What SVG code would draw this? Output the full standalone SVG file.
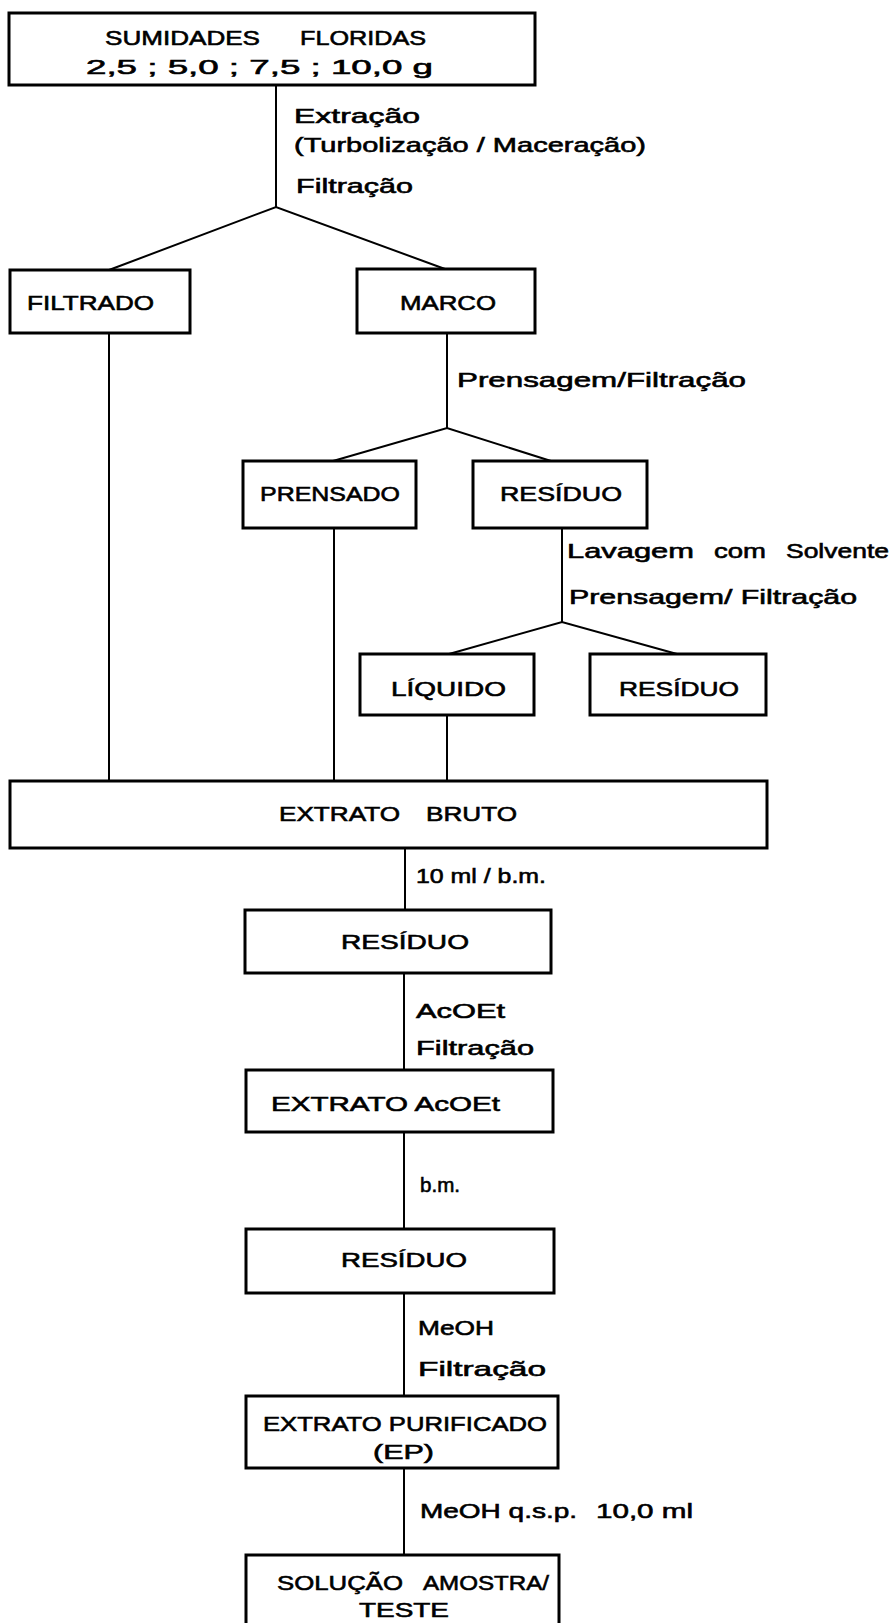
<svg xmlns="http://www.w3.org/2000/svg" width="893" height="1623" viewBox="0 0 893 1623">
<style>
.box{fill:#fff;stroke:#000;stroke-width:3}
.c{fill:none;stroke:#000;stroke-width:2}
text{font-family:"Liberation Sans",Arial,sans-serif;font-size:21px;fill:#000;stroke:#000;stroke-width:0.6}
</style>
<rect width="893" height="1623" fill="#fff"/>
<g id="connectors">
<polyline class="c" points="276,85 276,207"/>
<polyline class="c" points="109,270 276,207 445,269"/>
<line class="c" x1="109" y1="333" x2="109" y2="781"/>
<polyline class="c" points="447,333 447,428"/>
<polyline class="c" points="333,461 447,428 551,461"/>
<line class="c" x1="334" y1="528" x2="334" y2="781"/>
<polyline class="c" points="562,528 562,622"/>
<polyline class="c" points="449,654 562,622 677,654"/>
<line class="c" x1="447" y1="715" x2="447" y2="781"/>
<line class="c" x1="405" y1="848" x2="405" y2="910"/>
<line class="c" x1="404" y1="973" x2="404" y2="1070"/>
<line class="c" x1="404" y1="1132" x2="404" y2="1229"/>
<line class="c" x1="404" y1="1293" x2="404" y2="1396"/>
<line class="c" x1="404" y1="1468" x2="404" y2="1555"/>
<text x="294" y="123" textLength="126" lengthAdjust="spacingAndGlyphs">Extração</text>
<text x="294" y="152" textLength="352" lengthAdjust="spacingAndGlyphs">(Turbolização / Maceração)</text>
<text x="296" y="193" textLength="117" lengthAdjust="spacingAndGlyphs">Filtração</text>
<text x="457" y="387" textLength="289" lengthAdjust="spacingAndGlyphs">Prensagem/Filtração</text>
<text y="558"><tspan x="567" textLength="127" lengthAdjust="spacingAndGlyphs">Lavagem</tspan><tspan x="714" textLength="52" lengthAdjust="spacingAndGlyphs">com</tspan><tspan x="786" textLength="103" lengthAdjust="spacingAndGlyphs">Solvente</tspan></text>
<text x="569" y="604" textLength="288" lengthAdjust="spacingAndGlyphs">Prensagem/ Filtração</text>
<text x="416" y="883" textLength="130" lengthAdjust="spacingAndGlyphs">10 ml / b.m.</text>
<text x="416" y="1018" textLength="89" lengthAdjust="spacingAndGlyphs">AcOEt</text>
<text x="416" y="1055" textLength="118" lengthAdjust="spacingAndGlyphs">Filtração</text>
<text x="420" y="1192" textLength="40" lengthAdjust="spacingAndGlyphs">b.m.</text>
<text x="418" y="1335" textLength="76" lengthAdjust="spacingAndGlyphs">MeOH</text>
<text x="418" y="1376" textLength="128" lengthAdjust="spacingAndGlyphs">Filtração</text>
<text y="1518"><tspan x="420" textLength="157" lengthAdjust="spacingAndGlyphs">MeOH q.s.p.</tspan><tspan x="596" textLength="97" lengthAdjust="spacingAndGlyphs">10,0 ml</tspan></text>
</g>
<g id="sumidades">
<rect class="box" x="9" y="13" width="526" height="72"/>
<text y="45"><tspan x="105" textLength="155" lengthAdjust="spacingAndGlyphs">SUMIDADES</tspan><tspan x="300" textLength="126" lengthAdjust="spacingAndGlyphs">FLORIDAS</tspan></text>
<text x="86" y="74" textLength="347" lengthAdjust="spacingAndGlyphs">2,5 ; 5,0 ; 7,5 ; 10,0 g</text>
</g>
<g id="filtrado">
<rect class="box" x="10" y="270" width="180" height="63"/>
<text x="27" y="310" textLength="127" lengthAdjust="spacingAndGlyphs">FILTRADO</text>
</g>
<g id="marco">
<rect class="box" x="357" y="269" width="178" height="64"/>
<text x="400" y="310" textLength="96" lengthAdjust="spacingAndGlyphs">MARCO</text>
</g>
<g id="prensado">
<rect class="box" x="243" y="461" width="173" height="67"/>
<text x="260" y="501" textLength="140" lengthAdjust="spacingAndGlyphs">PRENSADO</text>
</g>
<g id="residuo1">
<rect class="box" x="473" y="461" width="174" height="67"/>
<text x="500" y="501" textLength="122" lengthAdjust="spacingAndGlyphs">RESÍDUO</text>
</g>
<g id="liquido">
<rect class="box" x="360" y="654" width="174" height="61"/>
<text x="391" y="696" textLength="115" lengthAdjust="spacingAndGlyphs">LÍQUIDO</text>
</g>
<g id="residuo2">
<rect class="box" x="590" y="654" width="176" height="61"/>
<text x="619" y="696" textLength="120" lengthAdjust="spacingAndGlyphs">RESÍDUO</text>
</g>
<g id="extrato-bruto">
<rect class="box" x="10" y="781" width="757" height="67"/>
<text y="821"><tspan x="279" textLength="121" lengthAdjust="spacingAndGlyphs">EXTRATO</tspan><tspan x="426" textLength="91" lengthAdjust="spacingAndGlyphs">BRUTO</tspan></text>
</g>
<g id="residuo3">
<rect class="box" x="245" y="910" width="306" height="63"/>
<text x="341" y="949" textLength="128" lengthAdjust="spacingAndGlyphs">RESÍDUO</text>
</g>
<g id="extrato-acoet">
<rect class="box" x="246" y="1070" width="307" height="62"/>
<text x="271" y="1111" textLength="229" lengthAdjust="spacingAndGlyphs">EXTRATO AcOEt</text>
</g>
<g id="residuo4">
<rect class="box" x="246" y="1229" width="308" height="64"/>
<text x="341" y="1267" textLength="126" lengthAdjust="spacingAndGlyphs">RESÍDUO</text>
</g>
<g id="extrato-purificado">
<rect class="box" x="246" y="1396" width="312" height="72"/>
<text x="263" y="1431" textLength="284" lengthAdjust="spacingAndGlyphs">EXTRATO PURIFICADO</text>
<text x="373" y="1459" textLength="61" lengthAdjust="spacingAndGlyphs">(EP)</text>
</g>
<g id="solucao">
<rect class="box" x="246" y="1555" width="313" height="80"/>
<text y="1590"><tspan x="277" textLength="126" lengthAdjust="spacingAndGlyphs">SOLUÇÃO</tspan><tspan x="423" textLength="126" lengthAdjust="spacingAndGlyphs">AMOSTRA/</tspan></text>
<text x="359" y="1617" textLength="90" lengthAdjust="spacingAndGlyphs">TESTE</text>
</g>
</svg>
